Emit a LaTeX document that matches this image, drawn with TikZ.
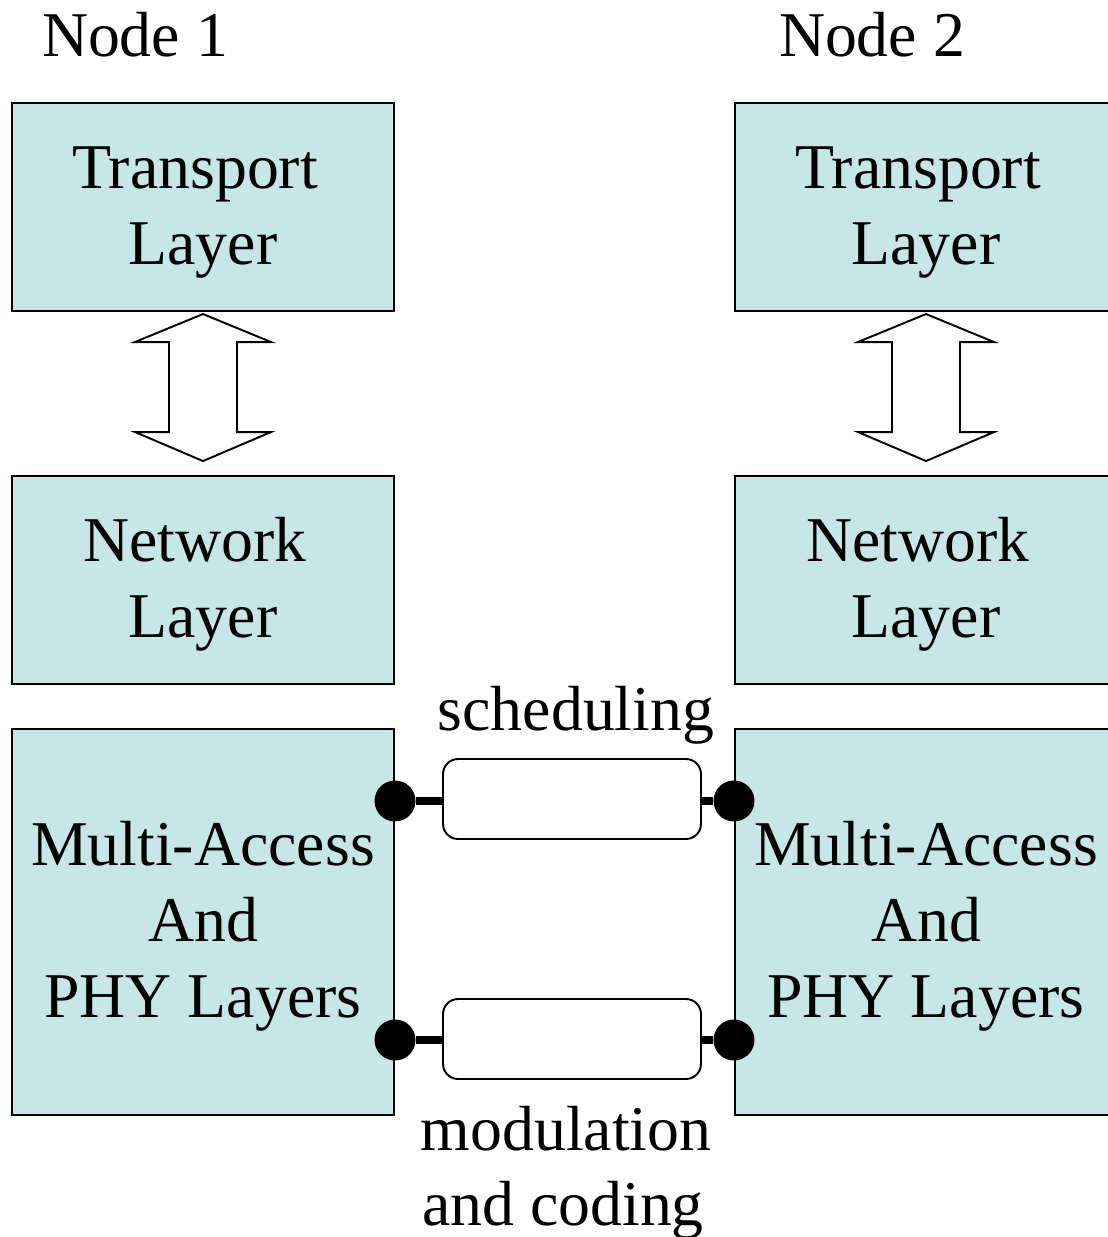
\documentclass[tikz,border=0pt]{standalone}
\usepackage{fontspec}
\setmainfont{Liberation Serif}
\usetikzlibrary{calc}
\definecolor{boxfill}{RGB}{198,230,232}
\newcommand{\bigtext}{\fontsize{36.3}{43.1}\selectfont}
% extra room above the first line of a box text
\newcommand{\topgap}{\rule{0pt}{1.06cm}}
% trailing word space kept at the end of a line
\newcommand{\trail}{\hspace*{0.32cm}}
\begin{document}
\begin{tikzpicture}[x=0.02cm,y=-0.02cm,
  layerbox/.style={draw=black, line width=1.2pt, fill=boxfill, inner sep=0pt,
    minimum width=7.64cm, font=\bigtext, align=center},
  shorter/.style={layerbox, minimum height=4.16cm},
  taller/.style={layerbox, minimum height=7.72cm},
  label/.style={font=\bigtext, anchor=base, inner sep=0pt},
  channel/.style={draw=black, line width=1.1pt, fill=white, rounded corners=0.3cm,
    minimum width=5.16cm, minimum height=1.6cm, inner sep=0pt},
  pin/.style={circle, fill=black, minimum size=0.82cm, inner sep=0pt},
  link/.style={line width=4pt},
  udarrow/.pic={
    \draw[line width=1.1pt, line join=miter, fill=white]
      (0,0) -- (68,28) -- (34,28) -- (34,118) -- (68,118) -- (0,147)
      -- (-68,118) -- (-34,118) -- (-34,28) -- (-68,28) -- cycle;
  }]
\useasboundingbox (0,0) rectangle (1108,1237);
\clip (0,0) rectangle (1108,1237);

% column headings
\node[label] (h1) at (135,57) {Node 1};
\node[label] (h2) at (872,57) {Node 2};

% protocol stack of node 1
\node[shorter] (tr1) at (203,207) {\topgap Transport\trail\\Layer};
\node[shorter] (nw1) at (203,580) {\topgap Network\trail\\Layer};
\node[taller]  (ma1) at (203,922) {\topgap Multi-Access\\And\\PHY Layers};

% protocol stack of node 2
\node[shorter] (tr2) at (926,207) {\topgap Transport\trail\\Layer};
\node[shorter] (nw2) at (926,580) {\topgap Network\trail\\Layer};
\node[taller]  (ma2) at (926,922) {\topgap Multi-Access\\And\\PHY Layers};

% interfaces between transport and network layers
\pic at ($(tr1.south)+(0,2)$) {udarrow};
\pic at ($(tr2.south)+(0,2)$) {udarrow};

% channels between the lower layers
\node[channel] (sch) at (572,799) {};
\node[channel] (mod) at (572,1039) {};

\node[pin] (p1) at ($(ma1.north east)+(0,73)$) {};
\node[pin] (p2) at ($(ma2.north west)+(0,73)$) {};
\node[pin] (p3) at ($(ma1.north east)+(0,312)$) {};
\node[pin] (p4) at ($(ma2.north west)+(0,312)$) {};

\draw[link] (p1) -- (p1 -| sch.west);
\draw[link] (p2) -- (p2 -| sch.east);
\draw[link] (p3) -- (p3 -| mod.west);
\draw[link] (p4) -- (p4 -| mod.east);

\node[label] (lsch) at (576,730) {scheduling};
\node[label] (lmod1) at (566,1150) {modulation};
\node[label] (lmod2) at (563,1225) {and coding};
\end{tikzpicture}
\end{document}
